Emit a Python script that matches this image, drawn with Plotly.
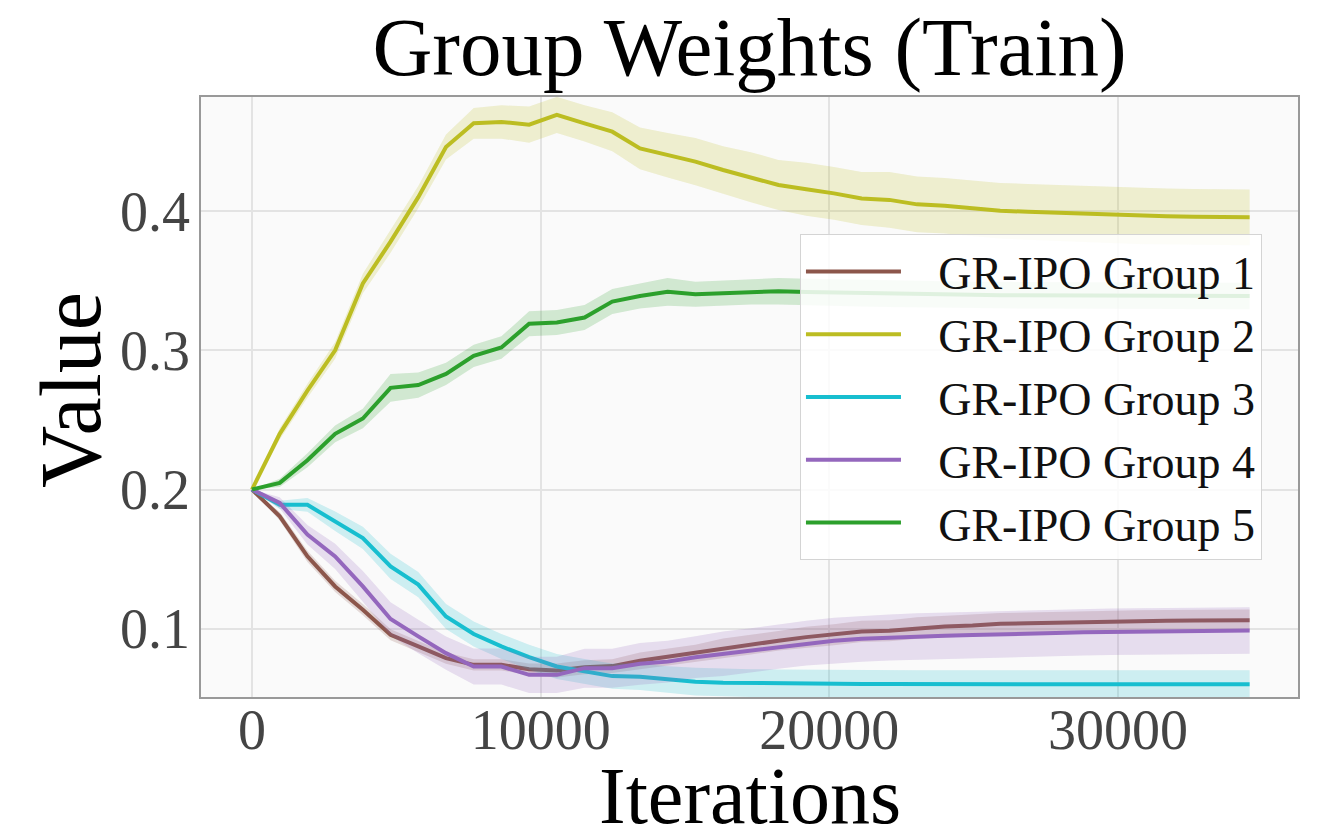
import numpy as np
import plotly.graph_objects as go

iterations = [i * 960 for i in range(37)]

group1 = [0.200, 0.1808, 0.152, 0.1304, 0.1137, 0.0957, 0.0873, 0.0789, 0.0741, 0.0741, 0.071, 0.070,
          0.0724, 0.0732, 0.077, 0.080, 0.0825, 0.086, 0.0885, 0.0914, 0.094, 0.0957, 0.0981, 0.0986,
          0.1005, 0.1017, 0.1024, 0.1036, 0.1040, 0.1045, 0.1050, 0.1053, 0.1056, 0.1058, 0.1060, 0.1061, 0.1062]
group2 = [0.200, 0.240, 0.271, 0.300, 0.348, 0.378, 0.410, 0.446, 0.463, 0.464, 0.462, 0.469,
          0.463, 0.457, 0.445, 0.440, 0.4355, 0.4295, 0.4243, 0.4187, 0.4156, 0.4127, 0.409, 0.408,
          0.4048, 0.4038, 0.402, 0.4002, 0.3995, 0.3988, 0.3978, 0.3971, 0.3964, 0.3962, 0.3959, 0.3957, 0.3955]
group3 = [0.200, 0.189, 0.189, 0.1772, 0.1652, 0.1448, 0.1317, 0.1088, 0.0962, 0.0873, 0.0796, 0.0729,
          0.0693, 0.066, 0.0655, 0.0635, 0.062, 0.0613, 0.061, 0.0607, 0.0605, 0.0604, 0.0603, 0.0603,
          0.0602, 0.0602, 0.0602, 0.0602, 0.0602, 0.0602, 0.0602, 0.0602, 0.0602, 0.0602, 0.0602, 0.0602, 0.0602]
group4 = [0.200, 0.1904, 0.1676, 0.152, 0.1304, 0.107, 0.0945, 0.0825, 0.0729, 0.0729, 0.0669, 0.0669,
          0.0717, 0.0717, 0.0748, 0.0764, 0.0796, 0.082, 0.0844, 0.0873, 0.0897, 0.0914, 0.0928, 0.0937,
          0.0945, 0.095, 0.0955, 0.0962, 0.0967, 0.097, 0.0975, 0.0978, 0.098, 0.0983, 0.0985, 0.0987, 0.0988]
group5 = [0.200, 0.2048, 0.221, 0.240, 0.251, 0.273, 0.275, 0.283, 0.296, 0.302, 0.319, 0.320,
          0.3235, 0.335, 0.339, 0.342, 0.3403, 0.3412, 0.3419, 0.3424, 0.3419, 0.3415, 0.341, 0.3405,
          0.340, 0.340, 0.3398, 0.3396, 0.3395, 0.3394, 0.3393, 0.3392, 0.3391, 0.339, 0.339, 0.339, 0.339]

std1 = [0, 0.003, 0.004, 0.004, 0.004, 0.004, 0.004, 0.004, 0.004, 0.004, 0.004, 0.005,
        0.005, 0.005, 0.006, 0.006, 0.006, 0.007, 0.007, 0.007, 0.0075, 0.0075, 0.0076, 0.0076,
        0.0077, 0.0077, 0.0077, 0.0077, 0.0077, 0.0077, 0.0077, 0.0077, 0.0077, 0.0077, 0.0077, 0.0077, 0.0077]
std2 = [0, 0.004, 0.005, 0.006, 0.007, 0.008, 0.008, 0.009, 0.011, 0.012, 0.013, 0.013,
        0.013, 0.014, 0.015, 0.016, 0.017, 0.017, 0.018, 0.018, 0.019, 0.019, 0.019, 0.020,
        0.020, 0.020, 0.020, 0.020, 0.020, 0.020, 0.020, 0.020, 0.020, 0.020, 0.020, 0.020, 0.020]
std3 = [0, 0.003, 0.005, 0.007, 0.008, 0.009, 0.009, 0.009, 0.009, 0.009, 0.009, 0.009,
        0.009, 0.009, 0.0095, 0.0095, 0.010, 0.010, 0.010, 0.010, 0.010, 0.010, 0.010, 0.010,
        0.010, 0.010, 0.010, 0.010, 0.010, 0.010, 0.010, 0.010, 0.010, 0.010, 0.010, 0.010, 0.010]
std4 = [0, 0.004, 0.007, 0.009, 0.011, 0.012, 0.012, 0.012, 0.013, 0.013, 0.013, 0.013,
        0.014, 0.014, 0.015, 0.015, 0.015, 0.016, 0.016, 0.016, 0.016, 0.0165, 0.0165, 0.0165,
        0.0167, 0.0167, 0.0167, 0.0167, 0.0167, 0.0167, 0.0167, 0.0167, 0.0167, 0.0167, 0.0167, 0.0167, 0.0167]
std5 = [0, 0.003, 0.005, 0.006, 0.007, 0.010, 0.009, 0.008, 0.008, 0.008, 0.009, 0.009,
        0.009, 0.009, 0.009, 0.010, 0.009, 0.009, 0.009, 0.0095, 0.0095, 0.0095, 0.0095, 0.0095,
        0.0095, 0.0095, 0.0095, 0.0095, 0.0095, 0.0095, 0.0095, 0.0095, 0.0095, 0.0095, 0.0095, 0.0095, 0.0095]

names = ["GR-IPO Group 1", "GR-IPO Group 2", "GR-IPO Group 3", "GR-IPO Group 4", "GR-IPO Group 5"]
series = [group1, group2, group3, group4, group5]
stds = [std1, std2, std3, std4, std5]
colors = ["#8c564b", "#bcbd22", "#17becf", "#9467bd", "#2ca02c"]
fills = ["rgba(140,86,75,0.2)", "rgba(188,189,34,0.2)", "rgba(23,190,207,0.2)",
         "rgba(148,103,189,0.2)", "rgba(44,160,44,0.2)"]

FONT = "Liberation Serif"
fig = go.Figure()
x = np.array(iterations)
for name, ys, sd, c, fc in zip(names, series, stds, colors, fills):
    ys = np.array(ys)
    sd = np.array(sd)
    up = ys + sd
    lo = ys - sd
    fig.add_trace(go.Scatter(
        x=np.concatenate([x, x[::-1]]), y=np.concatenate([up, lo[::-1]]),
        fill="toself", fillcolor=fc, line=dict(width=0), mode="lines",
        showlegend=False, hoverinfo="skip"))
    fig.add_trace(go.Scatter(x=x, y=ys, mode="lines", name="\u2002\u2009" + name,
                             line=dict(color=c, width=4)))

# page body has an 8px offset; figure sized so plot area lands where the reference has it
fig.update_layout(
    width=1311, height=819,
    margin=dict(l=193, r=21, t=89, b=130, autoexpand=False),
    paper_bgcolor="white", plot_bgcolor="#fafafa",
    font=dict(family=FONT, color="black"),
    title=dict(text="Group Weights (Train)", x=0.5, xref="paper", xanchor="center",
               y=1 - 38 / 819, yanchor="middle", font=dict(size=83, family=FONT, color="black")),
    legend=dict(x=0.546, y=0.7717, xanchor="left", yanchor="top",
                bgcolor="rgba(255,255,255,0.85)", bordercolor="#d4d4d4", borderwidth=1,
                font=dict(size=46, family=FONT, color="#111"), itemwidth=95),
    showlegend=True,
    annotations=[
        dict(text="Iterations", xref="paper", yref="paper", x=0.5, y=0, xanchor="center",
             yanchor="middle", yshift=-99, showarrow=False, font=dict(size=80, color="black")),
        dict(text="Value", xref="paper", yref="paper", x=0, y=0.5117, xanchor="center",
             yanchor="middle", xshift=-130, textangle=-90, showarrow=False,
             font=dict(size=86, color="black")),
    ],
)
fig.update_xaxes(range=[-1767, 36236], tickvals=[0, 10000, 20000, 30000],
                 ticktext=["0", "10000", "20000", "30000"], automargin=False,
                 tickfont=dict(size=56, color="#444"), ticklabelstandoff=-17,
                 showgrid=True, gridcolor="#e3e3e3", gridwidth=2,
                 zeroline=False, showline=True, linecolor="#999", linewidth=1.5, mirror=True,
                 ticks="")
fig.update_yaxes(range=[0.0510, 0.4819], tickvals=[0.1, 0.2, 0.3, 0.4],
                 ticktext=["0.1", "0.2", "0.3", "0.4"], automargin=False,
                 tickfont=dict(size=56, color="#444"), ticklabelstandoff=-2,
                 showgrid=True, gridcolor="#e3e3e3", gridwidth=2,
                 zeroline=False, showline=True, linecolor="#999", linewidth=1.5, mirror=True,
                 ticks="")

fig.write_html("out.html")
